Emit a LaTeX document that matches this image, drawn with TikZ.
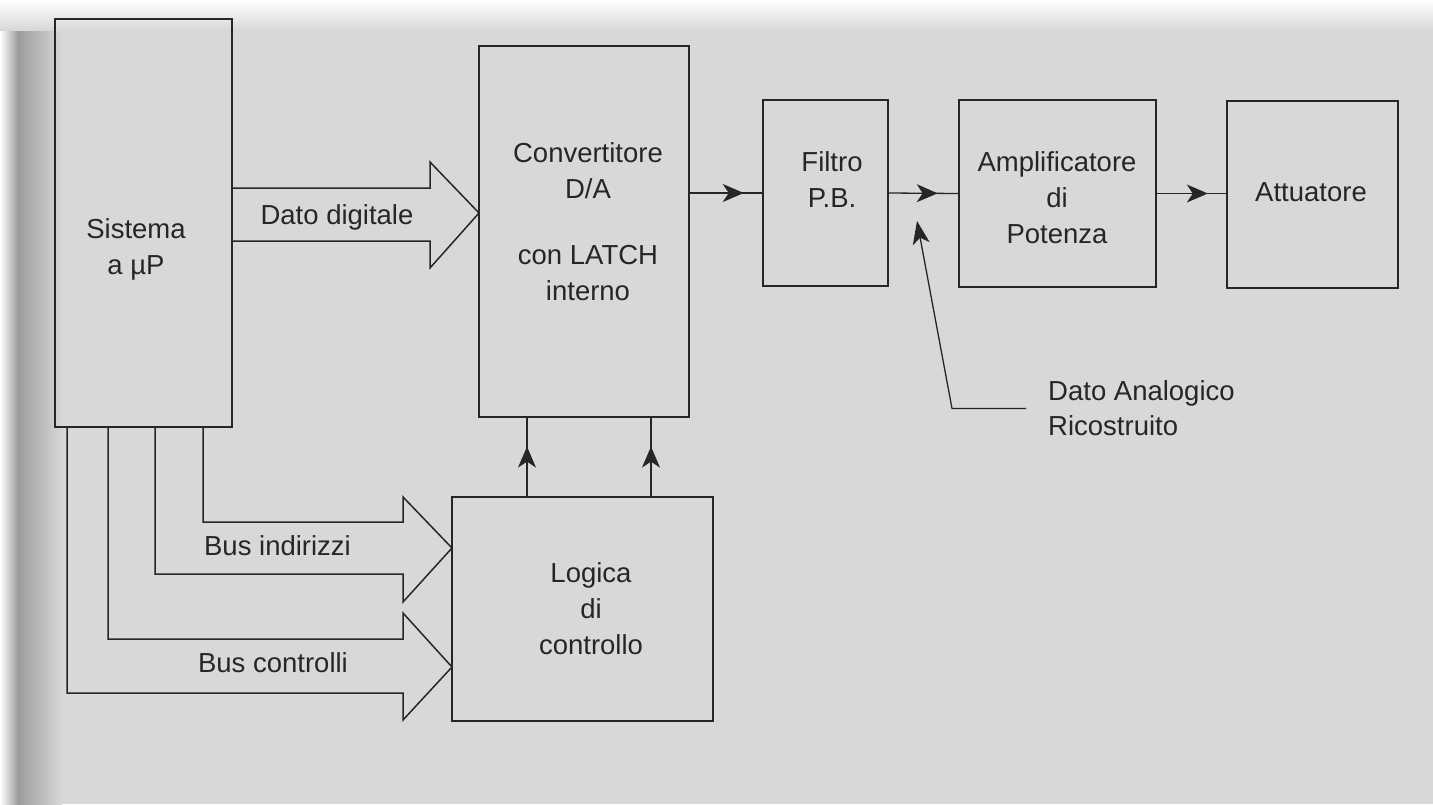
\documentclass[tikz,border=0pt]{standalone}
\usepackage{fontspec}
\setmainfont{Liberation Sans}
\usetikzlibrary{arrows.meta,decorations.markings}

\definecolor{ink}{HTML}{262626}
\definecolor{paper}{HTML}{D8D8D8}
\definecolor{edge}{HTML}{9C9C9C}

\begin{document}
\begin{tikzpicture}[x=1pt,y=-1pt,
  blk/.style={draw=ink, line width=1.7pt, inner sep=0pt, outer sep=0pt},
  lbl/.style={text=ink, align=center, inner sep=0pt,
              font=\fontsize{27.5}{36}\selectfont},
  bus/.style={draw=ink, line width=1.5pt, line join=miter},
  sig/.style={draw=ink, line width=1.3pt},
  tip/.style={-{Stealth[length=23pt,width=17pt,inset=6pt]}},
  midtip/.style={postaction={decorate},
    decoration={markings,
      mark=at position #1 with {\arrow{Stealth[length=21pt,width=18pt,inset=6pt]}}}}]

% page and scan margins
\useasboundingbox (0,0) rectangle (1433,804);
\fill[white] (0,0) rectangle (1433,804);
\fill[paper] (10,12) rectangle (1433,804);
\shade[left color=white, right color=edge] (0,12) rectangle (18,804);
\shade[left color=edge, right color=paper] (18,12) rectangle (62,804);
\shade[top color=white, bottom color=paper] (0,0) rectangle (1433,30);

% blocks
\node[blk, minimum width=177pt, minimum height=408pt] (sys)   at (143.5,223)  {};
\node[blk, minimum width=210pt, minimum height=371pt] (conv)  at (584,231.5)  {};
\node[blk, minimum width=125pt, minimum height=186pt] (filt)  at (825.5,193)  {};
\node[blk, minimum width=197pt, minimum height=187pt] (amp)   at (1057.5,193.5) {};
\node[blk, minimum width=171pt, minimum height=187pt] (att)   at (1312.5,194.5) {};
\node[blk, minimum width=261pt, minimum height=224pt] (logic) at (582.5,609)  {};

% block texts
\node[lbl] (sys-t)   at (136,249)   {Sistema\\a µP};
\node[lbl] (conv-t)  at (588,221.5) {Convertitore\\D/A\\[30pt]con LATCH\\interno};
\node[lbl] (filt-t)  at (832,179.5) {Filtro\\P.B.};
\node[lbl] (amp-t)   at (1057,197.5) {Amplificatore\\di\\Potenza};
\node[lbl] (att-t)   at (1311,192.5) {Attuatore};
\node[lbl] (logic-t) at (591,609)   {Logica\\di\\controllo};

% wide bus arrows
\draw[bus] (sys.east |- 0,188) -- (430,188) -- (430,162) -- (conv.west |- 0,213)
           -- (430,268) -- (430,241) -- (sys.east |- 0,241);
\draw[bus] (203,0 |- sys.south) -- (203,522) -- (403,522) -- (403,497)
           -- (logic.west |- 0,548) -- (403,602) -- (403,574) -- (155,574)
           -- (155,0 |- sys.south);
\draw[bus] (108,0 |- sys.south) -- (108,639) -- (403,639) -- (403,613)
           -- (logic.west |- 0,667) -- (403,720) -- (403,693) -- (67,693)
           -- (67,0 |- sys.south);

\node[lbl] (dd-t)  at (337,217)   {Dato digitale};
\node[lbl] (bi-t)  at (277.5,546) {Bus indirizzi};
\node[lbl] (bc-t)  at (273,662.5) {Bus controlli};

% signal path
\draw[sig, midtip=0.74] (conv.east |- filt.west) -- (filt.west);
\draw[sig, midtip=0.70] (filt.east) -- (amp.west);
\draw[sig, midtip=0.73] (amp.east) -- (att.west |- amp.east);

% control lines from the logic to the converter
\draw[sig, midtip=0.63] (527,0 |- logic.north) -- (527,0 |- conv.south);
\draw[sig, midtip=0.63] (651,0 |- logic.north) -- (651,0 |- conv.south);

% reconstructed analog output
\node[lbl, align=left, anchor=west, inner xsep=22pt, font=\fontsize{27.5}{35}\selectfont]
  (ana) at (1026,408.5) {Dato Analogico\\Ricostruito};
\coordinate (ana-end) at (917,221);
\draw[sig, tip] (ana.west) -- (952,0 |- ana.west) -- (ana-end);

\end{tikzpicture}
\end{document}
